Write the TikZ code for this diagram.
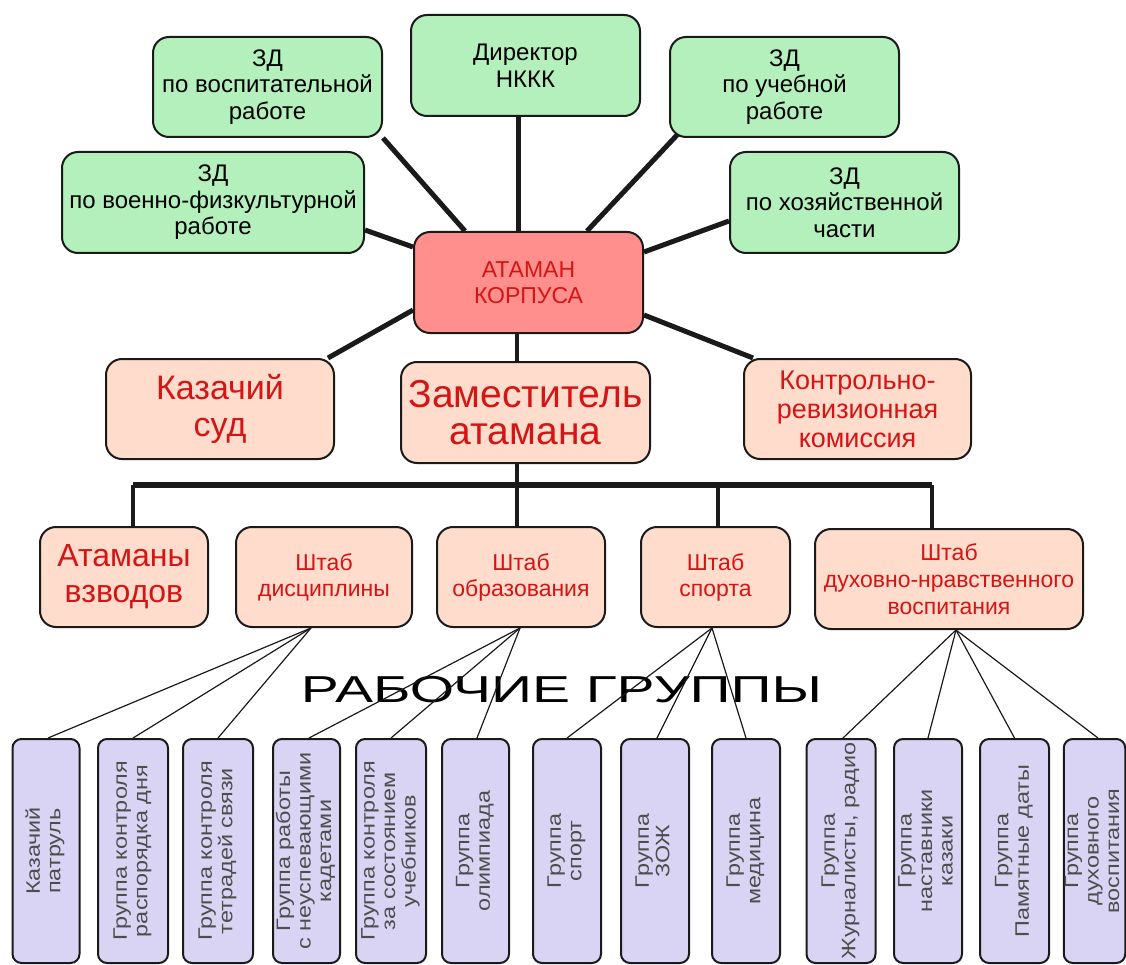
\documentclass[tikz,border=0pt]{standalone}
\usepackage{fontspec}
\setmainfont{Liberation Sans}
\newfontfamily\vfont{Liberation Sans}[FakeStretch=1.2]
\usepackage{graphicx}
\usetikzlibrary{calc,backgrounds}
\definecolor{gfill}{HTML}{B3F0BB}
\definecolor{rfill}{HTML}{FF8F8C}
\definecolor{pfill}{HTML}{FFDCCB}
\definecolor{lfill}{HTML}{D9D4F3}
\definecolor{rtext}{HTML}{D41515}
\definecolor{gtext}{HTML}{4D4D4D}
\definecolor{edge}{HTML}{1A1A1A}
\newcommand{\vt}[1]{\rotatebox{90}{\begin{tabular}{@{}c@{}}#1\end{tabular}}}
\begin{document}
\begin{tikzpicture}[x=1pt,y=-1pt,
  box/.style={draw=edge,line width=2pt,rounded corners=16pt,align=center,inner sep=0pt},
  greenbox/.style={box,fill=gfill,text=black,minimum width=229pt,minimum height=100pt,font=\fontsize{24}{26.5}\selectfont},
  chiefbox/.style={box,fill=rfill,text=rtext,font=\fontsize{23}{26}\selectfont},
  peachbox/.style={box,fill=pfill,text=rtext},
  grp/.style={draw=edge,line width=2pt,rounded corners=9pt,fill=lfill,text=gtext,inner sep=0pt,minimum height=224pt,font=\vfont\fontsize{19.5}{20.5}\selectfont},
  thick link/.style={line width=5pt,draw=edge},
  bar/.style={line width=6pt,draw=edge},
  drop/.style={line width=4pt,draw=edge},
  thin link/.style={line width=1.2pt,draw=edge}
]
\useasboundingbox (0,0) rectangle (1126,965);

% top level
\node[greenbox] (vosp) at (267.5,87) {ЗД\\по воспитательной\\работе};
\node[greenbox,minimum width=302pt,minimum height=101pt] (voen) at (213,202.5) {ЗД\\по военно-физкультурной\\работе};
\node[greenbox,minimum height=101pt] (dir) at (525.5,65.5) {Директор\\НККК};
\node[greenbox] (ucheb) at (784.5,87) {ЗД\\по учебной\\работе};
\node[greenbox,minimum height=101pt] (hoz) at (844.5,202.5) {ЗД\\по хозяйственной\\части};
\node[chiefbox,minimum width=229pt,minimum height=101pt] (ataman) at (528.5,282.5) {АТАМАН\\КОРПУСА};

% second level
\node[peachbox,minimum width=228pt,minimum height=100pt,font=\fontsize{34}{37}\selectfont] (sud) at (220,409) {Казачий\\суд};
\node[peachbox,minimum width=249pt,minimum height=101pt,font=\fontsize{39}{36.5}\selectfont] (zam) at (525.5,412.5) {Заместитель\\атамана};
\node[peachbox,minimum width=227pt,minimum height=100pt,font=\fontsize{27}{29}\selectfont] (krk) at (857.5,409) {Контрольно-\\ревизионная\\комиссия};

% third level
\node[peachbox,minimum width=168pt,minimum height=100pt,font=\fontsize{32}{36}\selectfont] (atv) at (124,577) {Атаманы\\взводов};
\node[peachbox,minimum width=176pt,minimum height=100pt,font=\fontsize{23}{26}\selectfont] (disc) at (324,577) {Штаб\\дисциплины};
\node[peachbox,minimum width=168pt,minimum height=100pt,font=\fontsize{23}{26}\selectfont] (obr) at (521,577) {Штаб\\образования};
\node[peachbox,minimum width=149pt,minimum height=100pt,font=\fontsize{23}{26}\selectfont] (sport) at (715.5,577) {Штаб\\спорта};
\node[peachbox,minimum width=268pt,minimum height=100pt,font=\fontsize{23}{27}\selectfont] (duh) at (949,579) {Штаб\\духовно-нравственного\\воспитания};

% caption
\node[font=\fontsize{37.5}{40}\selectfont,text=black,inner sep=0pt] (rg) at (561.5,690) {\scalebox{1.52}[1]{РАБОЧИЕ ГРУППЫ}};

% working groups
\node[grp,minimum width=67pt] (g1) at (46,851) {\vt{Казачий\\патруль}};
\node[grp,minimum width=70pt] (g2) at (133,851) {\vt{Группа контроля\\распорядка дня}};
\node[grp,minimum width=70pt] (g3) at (218,851) {\vt{Группа контроля\\тетрадей связи}};
\node[grp,minimum width=67pt] (g4) at (306.5,851) {\vt{Группа работы\\с неуспевающими\\кадетами}};
\node[grp,minimum width=70pt] (g5) at (391,851) {\vt{Группа контроля\\за состоянием\\учебников}};
\node[grp,minimum width=67pt] (g6) at (475.5,851) {\vt{Группа\\олимпиада}};
\node[grp,minimum width=68pt] (g7) at (567,851) {\vt{Группа\\спорт}};
\node[grp,minimum width=68pt] (g8) at (655,851) {\vt{Группа\\ЗОЖ}};
\node[grp,minimum width=68pt] (g9) at (746,851) {\vt{Группа\\медицина}};
\node[grp,minimum width=69pt] (g10) at (841,851) {\vt{Группа\\Журналисты,  радио}};
\node[grp,minimum width=68pt] (g11) at (928,851) {\vt{Группа\\наставники\\казаки}};
\node[grp,minimum width=69pt] (g12) at (1014.5,851) {\vt{Группа\\Памятные даты}};
\node[grp,minimum width=59pt] (g13) at (1094.5,851) {\vt{Группа\\духовного\\воспитания}};

% connector points
\coordinate (busL) at (133,485);
\coordinate (busM) at (517,485);
\coordinate (busS) at (718,485);
\coordinate (busR) at (932,485);
\coordinate (discB) at ($(disc.south)+(-13,0)$);
\coordinate (obrB) at ($(obr.south)+(-1,0)$);
\coordinate (sportB) at ($(sport.south)+(-3.5,0)$);
\coordinate (duhB) at ($(duh.south)+(7,0)$);

\begin{scope}[on background layer]
  \draw[thick link] (vosp.south east) -- ($(ataman.north west)+(52,0)$);
  \draw[thick link] ($(voen.east)+(0,27.5)$) -- ($(ataman.west)+(0,-35.5)$);
  \draw[thick link] ($(dir.south)+(-7.5,0)$) -- ($(ataman.north)+(-10.5,0)$);
  \draw[thick link] ($(ucheb.south west)+(9,-4)$) -- ($(ataman.north)+(58.5,0)$);
  \draw[thick link] ($(hoz.west)+(0,18.5)$) -- ($(ataman.east)+(0,-30.5)$);
  \draw[thick link] ($(ataman.west)+(0,27.5)$) -- ($(sud.north east)+(-7,0)$);
  \draw[thick link] ($(ataman.east)+(0,32.5)$) -- ($(krk.north west)+(10,0)$);
  \draw[drop] ($(ataman.south)+(-11.5,0)$) -- ($(zam.north)+(-8.5,0)$);
  \draw[drop] (zam.south -| busM) -- (obr.north -| busM);
  \draw[bar] (busL) -- (busR);
  \draw[drop] (busL) -- (atv.north -| busL);
  \draw[drop] (busS) -- (sport.north -| busS);
  \draw[drop] (busR) -- (duh.north -| busR);
\end{scope}

\draw[thin link] (discB) -- ($(g1.north)+(2,0)$);
\draw[thin link] (discB) -- (g2.north);
\draw[thin link] (discB) -- (g3.north);
\draw[thin link] (obrB) -- ($(g4.north)+(2.5,0)$);
\draw[thin link] (obrB) -- (g5.north);
\draw[thin link] (obrB) -- ($(g6.north)+(1.5,0)$);
\draw[thin link] (sportB) -- (g7.north);
\draw[thin link] (sportB) -- ($(g8.north)+(2,0)$);
\draw[thin link] (sportB) -- (g9.north);
\draw[thin link] (duhB) -- ($(g10.north)+(2,0)$);
\draw[thin link] (duhB) -- (g11.north);
\draw[thin link] (duhB) -- (g12.north);
\draw[thin link] (duhB) -- ($(g13.north)+(3.5,0)$);
\end{tikzpicture}
\end{document}
